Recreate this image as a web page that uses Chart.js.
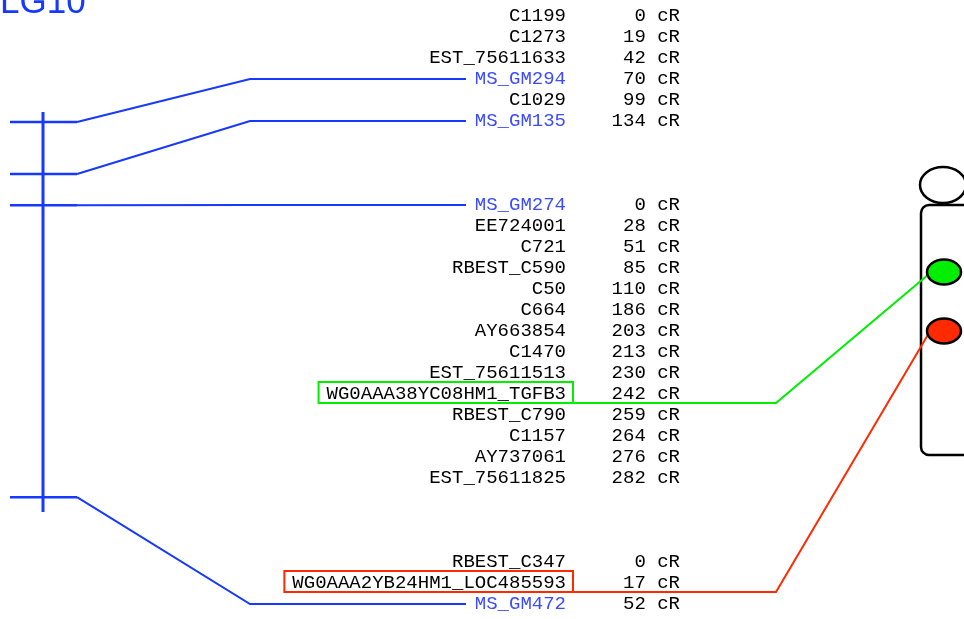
<!DOCTYPE html>
<html>
<head>
<meta charset="utf-8">
<script src="https://cdn.jsdelivr.net/npm/chart.js@4.4.1/dist/chart.umd.min.js"></script>
<style>
  html, body { margin: 0; padding: 0; background: #ffffff; }
  #wrap { width: 964px; height: 619px; position: relative; }
</style>
</head>
<body>
<div id="wrap"><canvas id="map-chart"></canvas></div>
<script>
// marker groups of the RH map, one row per marker (name + position in cR)
const group1Names = ['C1199', 'C1273', 'EST_75611633', 'MS_GM294', 'C1029', 'MS_GM135'];
const group1CR = [0, 19, 42, 70, 99, 134];
const group2Names = ['MS_GM274', 'EE724001', 'C721', 'RBEST_C590', 'C50', 'C664', 'AY663854',
    'C1470', 'EST_75611513', 'WG0AAA38YC08HM1_TGFB3', 'RBEST_C790', 'C1157', 'AY737061', 'EST_75611825'];
const group2CR = [0, 28, 51, 85, 110, 186, 203, 213, 230, 242, 259, 264, 276, 282];
const group3Names = ['RBEST_C347', 'WG0AAA2YB24HM1_LOC485593', 'MS_GM472'];
const group3CR = [0, 17, 52];

// linkage group LG10 (cM) and the anchor markers placed on it
const lg10Title = 'LG10';
const lg10Length = 100;
const lg10Markers = ['MS_GM294', 'MS_GM135', 'MS_GM274', 'MS_GM472'];
const lg10Pos = [2.5, 15.5, 23.3, 96.3];

// chromosome on the right (Mb) with the two highlighted genes
const chromLength = 75;
const chromHead = -6;
const hitMarkers = ['WG0AAA38YC08HM1_TGFB3', 'WG0AAA2YB24HM1_LOC485593'];
const hitChromPos = [20.1, 37.8];
const hitColors = ['#00ee00', '#ff2a00'];

const groupGap = 3;   // empty rows between groups
const blueLine = '#1638ff';
const blueText = '#3b4cff';

// build row list
const rows = [];
let r = 0;
[[group1Names, group1CR], [group2Names, group2CR], [group3Names, group3CR]].forEach((g, gi) => {
    if (gi > 0) r += groupGap;
    g[0].forEach((name, i) => {
        rows.push({ name: name, cr: g[1][i], row: r });
        r++;
    });
});

function lineSet(points, width) {
    return {
        data: points,
        yAxisID: 'yL',
        showLine: true,
        borderColor: blueLine,
        borderWidth: width,
        pointRadius: 0
    };
}

// LG10 bar plus one tick per anchor marker
const datasets = [lineSet([{ x: 43, y: 0 }, { x: 43, y: lg10Length }], 3)];
lg10Pos.forEach(p => {
    datasets.push(lineSet([{ x: 10, y: p }, { x: 77, y: p }], 2.5));
});

const mapPlugin = {
    id: 'mapPlugin',
    afterDatasetsDraw(chart) {
        const ctx = chart.ctx;
        const sx = chart.scales.x;
        const sy = chart.scales.y;
        const sl = chart.scales.yL;
        const sr = chart.scales.yR;
        const X = v => sx.getPixelForValue(v);
        ctx.save();

        // title
        ctx.fillStyle = blueLine;
        ctx.font = '35px "Liberation Sans", Arial, sans-serif';
        ctx.textBaseline = 'alphabetic';
        ctx.textAlign = 'left';
        ctx.fillText(lg10Title, X(0), 13);

        // connectors LG10 -> marker rows
        ctx.strokeStyle = blueLine;
        ctx.lineWidth = 2;
        lg10Markers.forEach((m, i) => {
            const row = rows.find(d => d.name === m);
            const y0 = sl.getPixelForValue(lg10Pos[i]);
            const y1 = sy.getPixelForValue(row.row);
            ctx.beginPath();
            ctx.moveTo(X(77), y0);
            ctx.lineTo(X(250), y1);
            ctx.lineTo(X(466), y1);
            ctx.stroke();
        });

        // marker names and cR positions
        ctx.font = '19px "Liberation Mono", "Courier New", monospace';
        ctx.textBaseline = 'middle';
        rows.forEach(d => {
            const y = sy.getPixelForValue(d.row);
            ctx.fillStyle = lg10Markers.includes(d.name) ? blueText : '#000000';
            ctx.textAlign = 'right';
            ctx.fillText(d.name, X(566), y);
            ctx.fillStyle = '#000000';
            ctx.fillText(d.cr + ' cR', X(680), y);
        });

        // chromosome outline
        ctx.strokeStyle = '#000000';
        ctx.lineWidth = 2.5;
        const cTop = sr.getPixelForValue(0);
        const cBot = sr.getPixelForValue(chromLength);
        ctx.beginPath();
        ctx.roundRect(X(921), cTop, 80, cBot - cTop, 8);
        ctx.stroke();
        ctx.beginPath();
        ctx.ellipse(X(943), sr.getPixelForValue(chromHead), 23, 18, 0, 0, Math.PI * 2);
        ctx.stroke();

        // highlighted genes: box, link, spot on chromosome
        hitMarkers.forEach((m, i) => {
            const row = rows.find(d => d.name === m);
            const y = sy.getPixelForValue(row.row);
            const w = ctx.measureText(m).width;
            const yb = y + 9;
            const yc = sr.getPixelForValue(hitChromPos[i]);
            ctx.strokeStyle = hitColors[i];
            ctx.lineWidth = 2;
            ctx.strokeRect(X(566) - w - 8, y - 12, w + 15, 21);
            ctx.beginPath();
            ctx.moveTo(X(573), yb);
            ctx.lineTo(X(776), yb);
            ctx.lineTo(X(929), yc + 2);
            ctx.stroke();
            ctx.beginPath();
            ctx.ellipse(X(944), yc, 17, 12.5, 0, 0, Math.PI * 2);
            ctx.fillStyle = hitColors[i];
            ctx.fill();
            ctx.strokeStyle = '#000000';
            ctx.lineWidth = 2.5;
            ctx.stroke();
        });
        ctx.restore();
    }
};

const config = {
    type: 'scatter',
    data: { datasets: datasets },
    options: {
        responsive: true,
        maintainAspectRatio: false,
        animation: false,
        events: [],
        layout: { padding: 0 },
        plugins: { legend: { display: false }, tooltip: { enabled: false } },
        scales: {
            x: { type: 'linear', display: false, min: 0, max: 964 },
            // marker rows: 21 px per row, first row at 16 px
            y: { type: 'linear', display: false, reverse: true, min: -16 / 21, max: (619 - 16) / 21 },
            // LG10 in cM, 4 px per cM, starting at 112 px
            yL: { type: 'linear', display: false, reverse: true, min: -112 / 4, max: (619 - 112) / 4 },
            // chromosome in Mb, 250 px for 75 Mb, starting at 205 px
            yR: { type: 'linear', display: false, reverse: true, min: -205 * 75 / 250, max: (619 - 205) * 75 / 250 }
        }
    },
    plugins: [mapPlugin]
};

const mapChart = new Chart(document.getElementById('map-chart'), config);
</script>
</body>
</html>
